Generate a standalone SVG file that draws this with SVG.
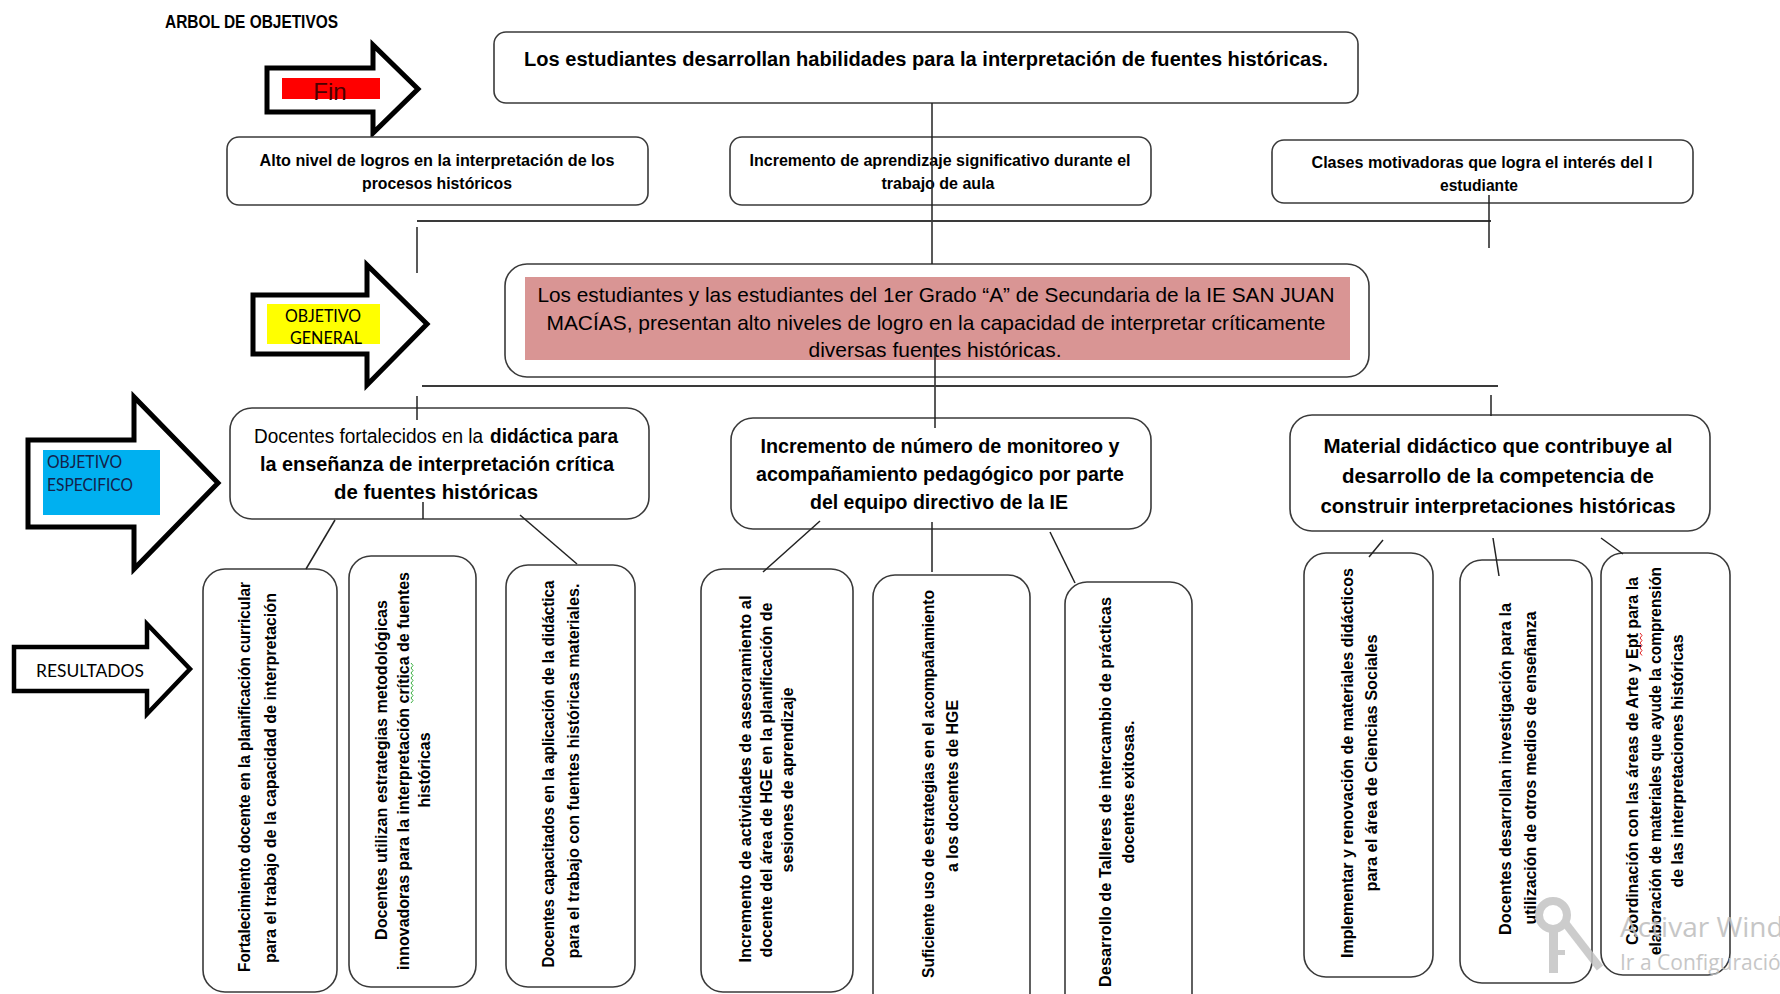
<svg xmlns="http://www.w3.org/2000/svg" width="1780" height="994" viewBox="0 0 1780 994">
<style>
.bg{fill:#fff}
.box{fill:#fff;stroke:#3a3a3a;stroke-width:1.6}
.arrow{fill:#fff;stroke:#000;stroke-width:5;stroke-linejoin:miter}
.ln{stroke:#222;stroke-width:1.5;fill:none}
.hl{stroke:#3a3a3a;stroke-width:2.2;fill:none}
.b{font-family:"Liberation Sans",Arial,sans-serif;font-weight:bold;fill:#000}
.r{font-family:"Liberation Sans",Arial,sans-serif;font-weight:normal;fill:#000}
.c{font-family:Lato,"Liberation Sans",Arial,sans-serif;fill:#000}
.m{text-anchor:middle}
.wm{font-family:"Open Sans","Noto Sans",sans-serif;fill:#bdbdbd}
</style>
<defs>
<clipPath id="oe3clip"><rect x="1290" y="415" width="420" height="100"/></clipPath>
</defs>
<rect class="bg" x="0" y="0" width="1780" height="994"/>

<g id="title">
<text class="b" x="165" y="28" font-size="18" textLength="173" lengthAdjust="spacingAndGlyphs">ARBOL DE OBJETIVOS</text>
</g>

<g id="label-fin">
<polygon class="arrow" points="267,68 373,68 373,45 418,89 373,133 373,112 267,112"/>
<rect x="282" y="78" width="98" height="21" fill="#ff0000"/>
<text class="r m" x="330" y="100" font-size="24" style="fill:#4a0000">Fin</text>
</g>

<g id="label-objetivo-general">
<polygon class="arrow" points="253,295 367,295 367,265 427,324 367,385 367,354 253,354"/>
<rect x="267" y="304" width="113" height="40" fill="#ffff00"/>
<text class="c m" x="323" y="322" font-size="17" textLength="76" lengthAdjust="spacingAndGlyphs">OBJETIVO</text>
<text class="c m" x="326" y="344" font-size="17" textLength="72" lengthAdjust="spacingAndGlyphs">GENERAL</text>
</g>

<g id="label-objetivo-especifico">
<polygon class="arrow" points="28,440 134,440 134,397 218,483 134,569 134,527 28,527"/>
<rect x="43" y="450" width="117" height="65" fill="#00b0f0"/>
<text class="c" x="47" y="468" font-size="17" textLength="75" lengthAdjust="spacingAndGlyphs" style="fill:#14224a">OBJETIVO</text>
<text class="c" x="47" y="491" font-size="17" textLength="86" lengthAdjust="spacingAndGlyphs" style="fill:#14224a">ESPECIFICO</text>
</g>

<g id="label-resultados">
<polygon class="arrow" points="14,647 147,647 147,624 190,669 147,714 147,691 14,691" style="stroke-width:4.5"/>
<text class="c" x="36" y="677" font-size="17" textLength="108" lengthAdjust="spacingAndGlyphs">RESULTADOS</text>
</g>

<g id="fin">
<rect class="box" x="494" y="32" width="864" height="71" rx="12"/>
<text class="b m" x="926" y="66" font-size="20" textLength="804" lengthAdjust="spacingAndGlyphs">Los estudiantes desarrollan habilidades para la  interpretación de fuentes históricas.</text>
</g>

<g id="fin-1">
<rect class="box" x="227" y="137" width="421" height="68" rx="12"/>
<text class="b m" x="437" y="166" font-size="16" textLength="355" lengthAdjust="spacingAndGlyphs">Alto  nivel de logros en la interpretación de los</text>
<text class="b m" x="437" y="189" font-size="16" textLength="150" lengthAdjust="spacingAndGlyphs">procesos históricos</text>
</g>

<g id="fin-2">
<rect class="box" x="730" y="137" width="421" height="68" rx="12"/>
<text class="b m" x="940" y="166" font-size="16" textLength="381" lengthAdjust="spacingAndGlyphs">Incremento de aprendizaje significativo durante  el</text>
<text class="b m" x="938" y="189" font-size="16" textLength="113" lengthAdjust="spacingAndGlyphs">trabajo de aula</text>
</g>

<g id="fin-3">
<rect class="box" x="1272" y="140" width="421" height="63" rx="12"/>
<text class="b m" x="1482" y="168" font-size="16" textLength="341" lengthAdjust="spacingAndGlyphs">Clases motivadoras que logra el interés del l</text>
<text class="b m" x="1479" y="191" font-size="16" textLength="78" lengthAdjust="spacingAndGlyphs">estudiante</text>
</g>

<g id="objetivo-general">
<rect class="box" x="505" y="264" width="864" height="113" rx="22"/>
<rect x="525" y="277" width="825" height="83" fill="#d99594"/>
<text class="r m" x="936" y="302" font-size="21" textLength="797" lengthAdjust="spacingAndGlyphs">Los estudiantes y las estudiantes del 1er Grado “A” de Secundaria de la IE SAN JUAN</text>
<text class="r m" x="936" y="330" font-size="21" textLength="779" lengthAdjust="spacingAndGlyphs">MACÍAS, presentan alto  niveles de logro  en la capacidad de interpretar críticamente</text>
<text class="r m" x="935" y="357" font-size="21" textLength="253" lengthAdjust="spacingAndGlyphs">diversas fuentes históricas.</text>
</g>

<g id="oe-1">
<rect class="box" x="230" y="408" width="419" height="111" rx="22"/>
<text class="r" x="254" y="443" font-size="20" textLength="229" lengthAdjust="spacingAndGlyphs">Docentes fortalecidos en la</text>
<text class="b" x="490" y="443" font-size="20" textLength="128" lengthAdjust="spacingAndGlyphs">didáctica para</text>
<text class="b m" x="437" y="471" font-size="20" textLength="354" lengthAdjust="spacingAndGlyphs">la enseñanza de interpretación crítica</text>
<text class="b m" x="436" y="499" font-size="20" textLength="204" lengthAdjust="spacingAndGlyphs">de fuentes  históricas</text>
</g>

<g id="oe-2">
<rect class="box" x="731" y="418" width="420" height="111" rx="22"/>
<text class="b m" x="940" y="453" font-size="20" textLength="359" lengthAdjust="spacingAndGlyphs">Incremento de  número de monitoreo y</text>
<text class="b m" x="940" y="481" font-size="20" textLength="368" lengthAdjust="spacingAndGlyphs">acompañamiento pedagógico por parte</text>
<text class="b m" x="939" y="509" font-size="20" textLength="258" lengthAdjust="spacingAndGlyphs">del equipo directivo de la IE</text>
</g>

<g id="oe-3">
<rect class="box" x="1290" y="415" width="420" height="116" rx="22"/>
<g clip-path="url(#oe3clip)">
<text class="b m" x="1498" y="453" font-size="20" textLength="349" lengthAdjust="spacingAndGlyphs">Material didáctico que contribuye al</text>
<text class="b m" x="1498" y="483" font-size="20" textLength="312" lengthAdjust="spacingAndGlyphs">desarrollo de la competencia de</text>
<text class="b m" x="1498" y="513" font-size="20" textLength="355" lengthAdjust="spacingAndGlyphs">construir interpretaciones  históricas</text>
</g>
</g>

<g id="r-1">
<rect class="box" x="203" y="569" width="134" height="423" rx="22"/>
<text class="b m" x="250" y="777" font-size="17" transform="rotate(-90 250 777)" textLength="390" lengthAdjust="spacingAndGlyphs">Fortalecimiento docente en la planificación curricular</text>
<text class="b m" x="276" y="778" font-size="17" transform="rotate(-90 276 778)" textLength="370" lengthAdjust="spacingAndGlyphs">para el trabajo de la capacidad de interpretación</text>
</g>

<g id="r-2">
<rect class="box" x="349" y="556" width="127" height="431" rx="22"/>
<text class="b m" x="387" y="770" font-size="16" transform="rotate(-90 387 770)" textLength="340" lengthAdjust="spacingAndGlyphs">Docentes utilizan  estrategias metodológicas</text>
<text class="b m" x="409" y="771" font-size="16" transform="rotate(-90 409 771)" textLength="398" lengthAdjust="spacingAndGlyphs">innovadoras para la interpretación crítica de  fuentes</text>
<text class="b m" x="430" y="770" font-size="16" transform="rotate(-90 430 770)" textLength="75" lengthAdjust="spacingAndGlyphs">históricas</text>
<path d="M411,663 l2,2.5 l-2,2.5 l2,2.5 l-2,2.5 l2,2.5 l-2,2.5 l2,2.5 l-2,2.5 l2,2.5 l-2,2.5 l2,2.5 l-2,2.5 l2,2.5 l-2,2.5 l2,2.5 l-2,2.5" fill="none" stroke="#3cb043" stroke-width="1"/>
</g>

<g id="r-3">
<rect class="box" x="506" y="565" width="129" height="422" rx="22"/>
<text class="b m" x="554" y="774" font-size="17" transform="rotate(-90 554 774)" textLength="387" lengthAdjust="spacingAndGlyphs">Docentes capacitados en la aplicación de la didáctica</text>
<text class="b m" x="579" y="771" font-size="17" transform="rotate(-90 579 771)" textLength="375" lengthAdjust="spacingAndGlyphs">para el trabajo con fuentes históricas materiales.</text>
</g>

<g id="r-4">
<rect class="box" x="701" y="569" width="152" height="423" rx="22"/>
<text class="b m" x="751" y="779" font-size="17" transform="rotate(-90 751 779)" textLength="367" lengthAdjust="spacingAndGlyphs">Incremento de actividades de  asesoramiento al</text>
<text class="b m" x="772" y="780" font-size="17" transform="rotate(-90 772 780)" textLength="355" lengthAdjust="spacingAndGlyphs">docente del área de HGE en la planificación de</text>
<text class="b m" x="793" y="780" font-size="17" transform="rotate(-90 793 780)" textLength="185" lengthAdjust="spacingAndGlyphs">sesiones de aprendizaje</text>
</g>

<g id="r-5">
<rect class="box" x="873" y="575" width="157" height="440" rx="22"/>
<text class="b m" x="934" y="784" font-size="17" transform="rotate(-90 934 784)" textLength="388" lengthAdjust="spacingAndGlyphs">Suficiente  uso de estrategias en el acompañamiento</text>
<text class="b m" x="958" y="786" font-size="17" transform="rotate(-90 958 786)" textLength="172" lengthAdjust="spacingAndGlyphs">a los docentes de HGE</text>
</g>

<g id="r-6">
<rect class="box" x="1065" y="582" width="127" height="440" rx="22"/>
<text class="b m" x="1111" y="792" font-size="17" transform="rotate(-90 1111 792)" textLength="390" lengthAdjust="spacingAndGlyphs">Desarrollo  de  Talleres de intercambio de prácticas</text>
<text class="b m" x="1134" y="792" font-size="17" transform="rotate(-90 1134 792)" textLength="143" lengthAdjust="spacingAndGlyphs">docentes exitosas.</text>
</g>

<g id="r-7">
<rect class="box" x="1304" y="553" width="129" height="424" rx="22"/>
<text class="b m" x="1353" y="763" font-size="17" transform="rotate(-90 1353 763)" textLength="390" lengthAdjust="spacingAndGlyphs">Implementar y renovación de materiales didácticos</text>
<text class="b m" x="1377" y="763" font-size="17" transform="rotate(-90 1377 763)" textLength="257" lengthAdjust="spacingAndGlyphs">para el área de Ciencias Sociales</text>
</g>

<g id="r-8">
<rect class="box" x="1460" y="560" width="132" height="423" rx="22"/>
<text class="b m" x="1511" y="769" font-size="17" transform="rotate(-90 1511 769)" textLength="332" lengthAdjust="spacingAndGlyphs">Docentes desarrollan  investigación para la</text>
<text class="b m" x="1536" y="768" font-size="17" transform="rotate(-90 1536 768)" textLength="313" lengthAdjust="spacingAndGlyphs">utilización de otros medios de enseñanza</text>
</g>

<g id="r-9">
<rect class="box" x="1601" y="553" width="129" height="422" rx="22"/>
<text class="b m" x="1638" y="761" font-size="16" transform="rotate(-90 1638 761)" textLength="368" lengthAdjust="spacingAndGlyphs">Coordinación con las áreas de Arte y Ept para la</text>
<text class="b m" x="1661" y="761" font-size="16" transform="rotate(-90 1661 761)" textLength="388" lengthAdjust="spacingAndGlyphs">elaboración de materiales que ayude la comprensión</text>
<text class="b m" x="1683" y="761" font-size="16" transform="rotate(-90 1683 761)" textLength="253" lengthAdjust="spacingAndGlyphs">de las interpretaciones históricas</text>
<path d="M1640,633 l2,2.5 l-2,2.5 l2,2.5 l-2,2.5 l2,2.5 l-2,2.5 l2,2.5 l-2,2.5 l2,2.5" fill="none" stroke="#e02020" stroke-width="1"/>
</g>

<g id="connectors">
<line class="ln" x1="932" y1="103" x2="932" y2="264"/>
<line class="ln" x1="935" y1="347" x2="935" y2="428"/>
<line class="hl" x1="417" y1="221" x2="1491" y2="221"/>
<line class="ln" x1="417" y1="227" x2="417" y2="273"/>
<line class="ln" x1="1489" y1="195" x2="1489" y2="248"/>
<line class="hl" x1="422" y1="386" x2="1498" y2="386"/>
<line class="ln" x1="417" y1="396" x2="417" y2="420"/>
<line class="ln" x1="1491" y1="395" x2="1491" y2="416"/>
<line class="ln" x1="423" y1="502" x2="423" y2="519"/>
<line class="ln" x1="335" y1="520" x2="306" y2="569"/>
<line class="ln" x1="520" y1="515" x2="577" y2="564"/>
<line class="ln" x1="932" y1="522" x2="932" y2="572"/>
<line class="ln" x1="820" y1="521" x2="763" y2="572"/>
<line class="ln" x1="1050" y1="532" x2="1075" y2="583"/>
<line class="ln" x1="1383" y1="540" x2="1369" y2="557"/>
<line class="ln" x1="1493" y1="538" x2="1499" y2="576"/>
<line class="ln" x1="1601" y1="538" x2="1623" y2="554"/>
</g>

<g id="watermark" opacity="0.85">
<circle cx="1553" cy="915" r="14" fill="none" stroke="#c4c4c4" stroke-width="8"/>
<rect x="1549" y="929" width="9" height="44" fill="#c4c4c4"/>
<rect x="1557" y="950" width="8" height="5" fill="#c4c4c4"/>
<line x1="1566" y1="924" x2="1600" y2="968" stroke="#c4c4c4" stroke-width="8"/>
<text class="wm" x="1620" y="937" font-size="28">Activar Windows</text>
<text class="wm" x="1620" y="970" font-size="21">Ir a Configuración para activar Windows.</text>
</g>
</svg>
